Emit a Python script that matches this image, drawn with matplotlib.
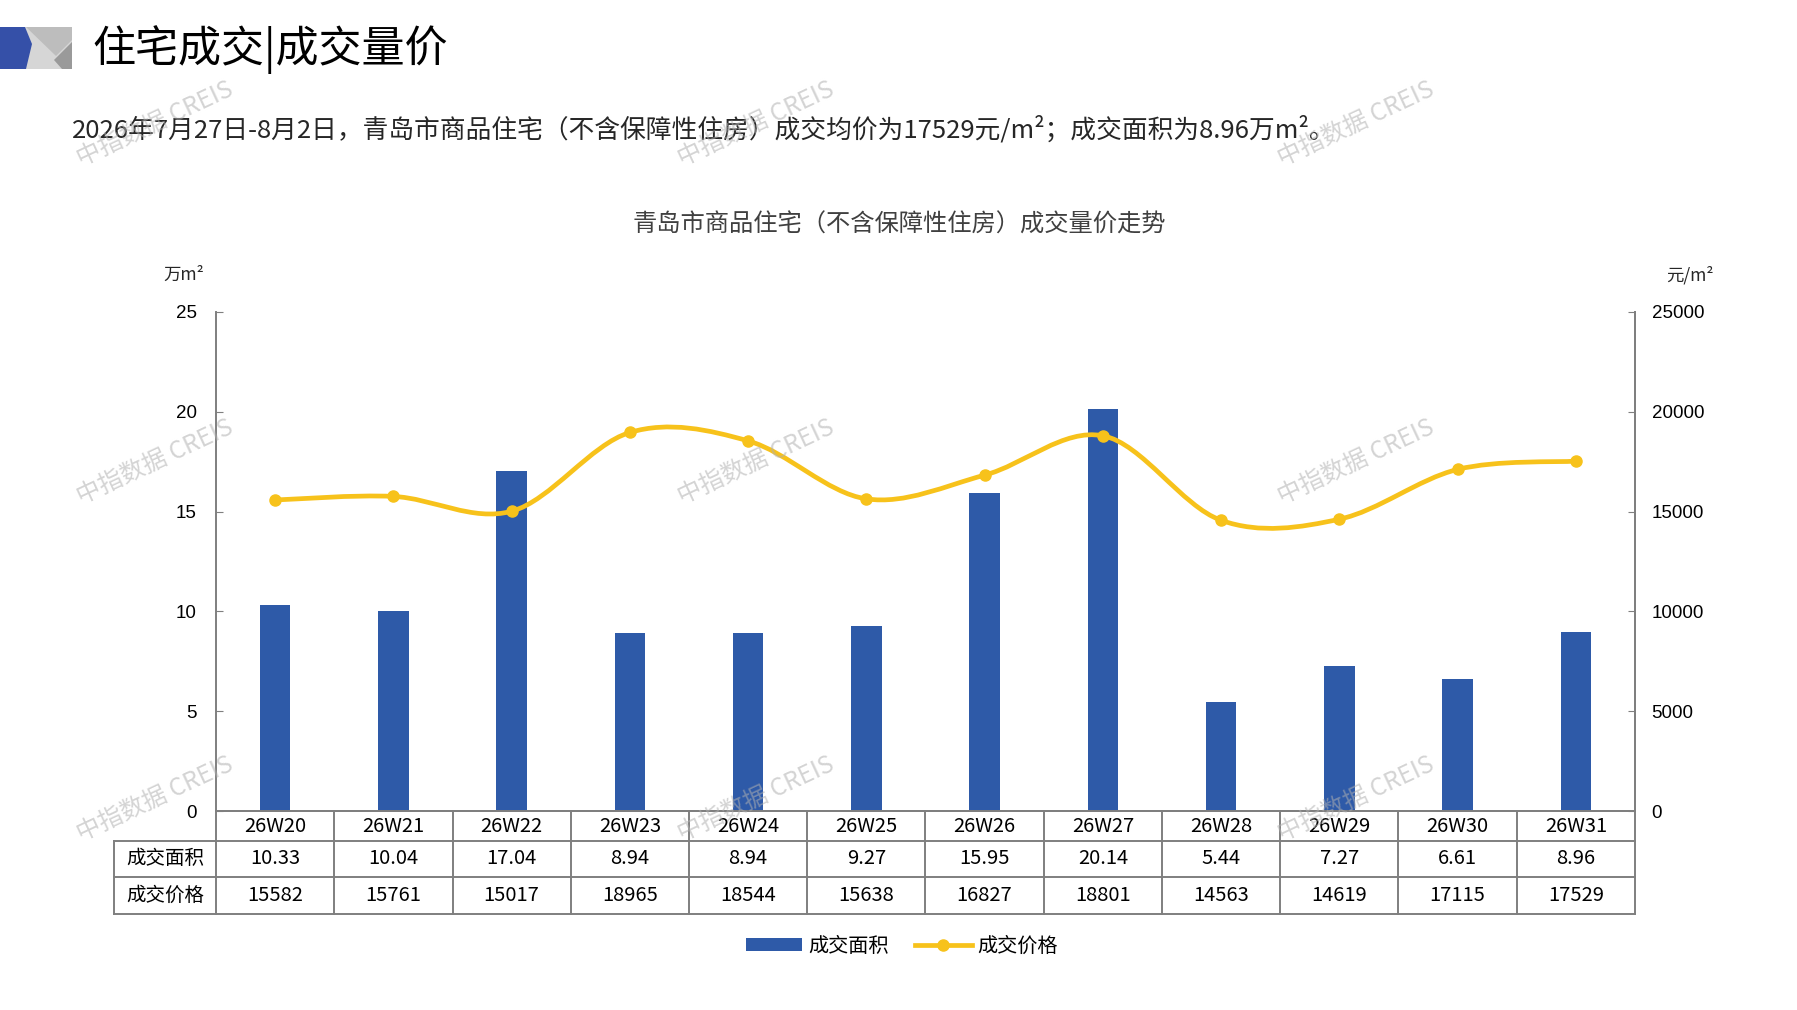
import matplotlib
matplotlib.use('Agg')
import matplotlib.pyplot as plt
from matplotlib.path import Path
from matplotlib.patches import PathPatch, Polygon, Patch
from matplotlib.lines import Line2D

plt.rcParams['font.family'] = ['Noto Sans CJK SC', 'DejaVu Sans']

# data
weeks = ['26W20', '26W21', '26W22', '26W23', '26W24', '26W25',
         '26W26', '26W27', '26W28', '26W29', '26W30', '26W31']
area = [10.33, 10.04, 17.04, 8.94, 8.94, 9.27, 15.95, 20.14, 5.44, 7.27, 6.61, 8.96]
price = [15582, 15761, 15017, 18965, 18544, 15638, 16827, 18801, 14563, 14619, 17115, 17529]
area_labels = ['10.33', '10.04', '17.04', '8.94', '8.94', '9.27',
               '15.95', '20.14', '5.44', '7.27', '6.61', '8.96']

BLUE = '#2E5AA8'
GOLD = '#F7C21B'
GRID = '#7f7f7f'
W, H = 1797, 1010

fig = plt.figure(figsize=(W / 100, H / 100), dpi=100)

# main chart axes (pixel box 216..1635 x 312..811)
left, right, top, bottom = 216, 1635, 312, 811
ax = fig.add_axes([left / W, 1 - bottom / H, (right - left) / W, (bottom - top) / H])
x = list(range(len(weeks)))
ax.bar(x, area, width=0.26, color=BLUE, zorder=2)
ax.set_xlim(-0.5, len(weeks) - 0.5)
ax.set_ylim(0, 25)
ax.set_yticks([0, 5, 10, 15, 20, 25])
ax.set_xticks([])
ax.spines['top'].set_visible(False)
for s in ['left', 'right', 'bottom']:
    ax.spines[s].set_color(GRID)
    ax.spines[s].set_linewidth(1.4)
ax.tick_params(axis='y', direction='in', length=5, color=GRID, pad=14,
               labelsize=13.5, labelfontfamily='Liberation Sans')

ax2 = ax.twinx()
ax2.set_ylim(0, 25000)
ax2.set_yticks([0, 5000, 10000, 15000, 20000, 25000])
for s in ['top', 'left', 'bottom']:
    ax2.spines[s].set_visible(False)
ax2.spines['right'].set_color(GRID)
ax2.spines['right'].set_linewidth(1.4)
ax2.tick_params(axis='y', direction='in', length=5, color=GRID, pad=12,
                labelsize=13.5, labelfontfamily='Liberation Sans')

# smoothed price line (Catmull-Rom style bezier like excel)
pts = list(zip(x, price))
verts = [pts[0]]
codes = [Path.MOVETO]
n = len(pts)
for i in range(n - 1):
    p0 = pts[i - 1] if i > 0 else pts[i]
    p1 = pts[i]
    p2 = pts[i + 1]
    p3 = pts[i + 2] if i + 2 < n else pts[i + 1]
    c1 = (p1[0] + (p2[0] - p0[0]) / 6, p1[1] + (p2[1] - p0[1]) / 6)
    c2 = (p2[0] - (p3[0] - p1[0]) / 6, p2[1] - (p3[1] - p1[1]) / 6)
    verts += [c1, c2, p2]
    codes += [Path.CURVE4] * 3
ax2.add_patch(PathPatch(Path(verts, codes), facecolor='none', edgecolor=GOLD,
                        lw=3.4, capstyle='round', zorder=3))
ax2.plot(x, price, 'o', color=GOLD, ms=8, zorder=4)

# data table under the chart
t_top, t_bot, t_left = 811, 914, 114
col_w = (right - left) / len(weeks)
lab_w = (left - t_left) / col_w
axt = fig.add_axes([t_left / W, 1 - t_bot / H, (right - t_left) / W, (t_bot - t_top) / H])
xmin = -0.5 - lab_w
axt.set_xlim(xmin, len(weeks) - 0.5)
axt.set_ylim(0, 103)
axt.axis('off')
r1, r2 = 73, 37
for yy, x0 in [(103, -0.5), (r1, xmin), (r2, xmin), (0, xmin)]:
    axt.plot([x0, len(weeks) - 0.5], [yy, yy], color=GRID, lw=1.4, clip_on=False)
for i in range(len(weeks) + 1):
    axt.plot([i - 0.5, i - 0.5], [0, 103], color=GRID, lw=1.4, clip_on=False)
axt.plot([xmin, xmin], [0, r1], color=GRID, lw=1.4, clip_on=False)
for i, w in enumerate(weeks):
    axt.text(i, (r1 + 103) / 2, w, ha='center', va='center', fontsize=14.5)
    axt.text(i, (r1 + r2) / 2, area_labels[i], ha='center', va='center', fontsize=14.5)
    axt.text(i, r2 / 2, str(price[i]), ha='center', va='center', fontsize=14.5)
axt.text((xmin - 0.5) / 2, (r1 + r2) / 2, '成交面积', ha='center', va='center', fontsize=14)
axt.text((xmin - 0.5) / 2, r2 / 2, '成交价格', ha='center', va='center', fontsize=14)

# legend
handles = [Patch(facecolor=BLUE, edgecolor='none'),
           Line2D([0], [0], color=GOLD, lw=3.4, marker='o', ms=8)]
fig.legend(handles, ['成交面积', '成交价格'], loc='center', ncol=2,
           bbox_to_anchor=(0.502, 1 - 946 / H), frameon=False, fontsize=14.5,
           handlelength=2.8, handleheight=0.6, columnspacing=1.3, handletextpad=0.3)

# overlay in pixel coords for header, texts, watermark
ov = fig.add_axes([0, 0, 1, 1], zorder=10)
ov.set_xlim(0, W)
ov.set_ylim(H, 0)
ov.axis('off')
ov.patch.set_alpha(0)

ov.add_patch(Polygon([(0, 27), (72, 27), (72, 69), (0, 69)], closed=True,
                     facecolor='#d6d6d6', edgecolor='none'))
ov.add_patch(Polygon([(26, 27), (72, 27), (72, 40), (56, 56)], closed=True,
                     facecolor='#bdbdbd', edgecolor='none'))
ov.add_patch(Polygon([(72, 42), (72, 69), (62, 69), (54, 60)], closed=True,
                     facecolor='#9a9a9a', edgecolor='none'))
ov.add_patch(Polygon([(0, 27), (25, 27), (32, 44), (26, 69), (0, 69)], closed=True,
                     facecolor='#3550A8', edgecolor='none'))

ov.text(92, 50, '住宅成交|成交量价', fontsize=31, va='center', ha='left', color='black')
ov.text(72, 130, '2026年7月27日-8月2日，青岛市商品住宅（不含保障性住房）成交均价为17529元/m²；成交面积为8.96万m²。',
        fontsize=18.5, va='center', ha='left', color='#262626')
ov.text(899, 225, '青岛市商品住宅（不含保障性住房）成交量价走势', fontsize=17.5,
        va='center', ha='center', color='#404040')
ov.text(184, 275, '万m²', fontsize=12.5, ha='center', va='center', color='#262626')
ov.text(1690, 275, '元/m²', fontsize=12.5, ha='center', va='center', color='#262626')

for wx in [155, 756, 1356]:
    for wy in [124, 462, 799]:
        ov.text(wx, wy, '中指数据 CREIS', fontsize=17.5, rotation=25, ha='center', va='center',
                color='#b0b0b0', alpha=0.55, family=['Noto Sans CJK SC', 'DejaVu Sans'])

fig.savefig('out.png', dpi=100)
